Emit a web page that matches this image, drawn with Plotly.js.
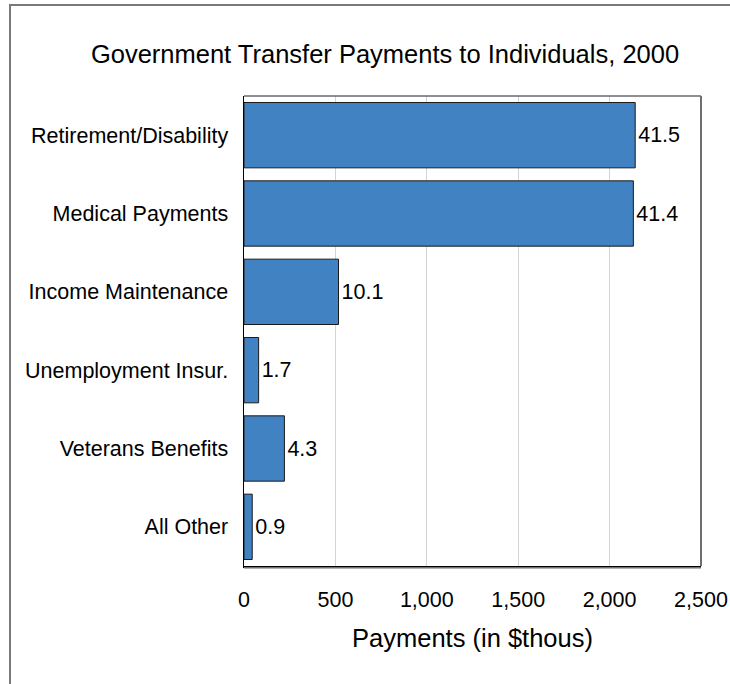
<!DOCTYPE html>
<html>
<head>
<meta charset="utf-8">
<script src="https://cdn.plot.ly/plotly-3.0.1.min.js"></script>
<style>
  html, body { margin: 0; padding: 0; background: #ffffff; }
  #wrap { position: relative; width: 730px; height: 684px; overflow: hidden; }
  #frame { position: absolute; left: 9px; top: 4px; width: 760px; height: 720px;
           border-left: 2px solid #7a7a7a; border-top: 2px solid #7a7a7a; box-sizing: border-box; }
  #chart { position: absolute; left: 0; top: 0; width: 730px; height: 684px; }
</style>
</head>
<body>
<div id="wrap">
  <div id="chart"></div>
  <div id="frame"></div>
</div>
<script>
// Data (top to bottom as displayed)
var categories = ["Retirement/Disability", "Medical Payments", "Income Maintenance", "Unemployment Insur.", "Veterans Benefits", "All Other"];
var payments = [2140, 2130, 517, 80, 221, 45];
var shareLabels = ["41.5", "41.4", "10.1", "1.7", "4.3", "0.9"];
var xTickValues = [0, 500, 1000, 1500, 2000, 2500];
var xTickLabels = ["0", "500", "1,000", "1,500", "2,000", "2,500"];

var font = "Liberation Sans, Arial, sans-serif";

var trace = {
  type: "bar",
  orientation: "h",
  y: categories,
  x: payments,
  text: shareLabels,
  textposition: "outside",
  constraintext: "none",
  cliponaxis: false,
  textfont: { family: font, size: 21.5, color: "#000000" },
  marker: { color: "#4182C2", line: { color: "#1a1a1a", width: 1 } },
  hoverinfo: "x+y"
};

var layout = {
  width: 730,
  height: 684,
  margin: { l: 244, r: 29, t: 96, b: 118 },
  paper_bgcolor: "#ffffff",
  plot_bgcolor: "#ffffff",
  showlegend: false,
  bargap: 0.166,
  title: {
    text: "Government Transfer Payments to Individuals, 2000",
    font: { family: font, size: 25.5, color: "#000000" },
    xref: "container", x: 385 / 730, xanchor: "center",
    yref: "container", y: 1 - 54 / 684, yanchor: "middle"
  },
  xaxis: {
    range: [0, 2500],
    tickvals: xTickValues,
    ticktext: xTickLabels,
    tickfont: { family: font, size: 21.5, color: "#000000" },
    showgrid: true,
    gridcolor: "#d4d4d4",
    gridwidth: 1,
    zeroline: false,
    showline: true,
    linecolor: "#000000",
    linewidth: 2,
    ticks: "",
    ticklabelstandoff: 13,
    title: {
      text: "Payments (in $thous)",
      font: { family: font, size: 25.5, color: "#000000" },
      standoff: 18
    },
    fixedrange: true
  },
  yaxis: {
    autorange: "reversed",
    tickfont: { family: font, size: 21.5, color: "#000000" },
    showgrid: false,
    zeroline: false,
    showline: true,
    linecolor: "#000000",
    linewidth: 1.5,
    ticks: "",
    ticklabelstandoff: 10,
    fixedrange: true
  },
  shapes: [
    { type: "line", xref: "paper", yref: "paper", x0: 0, x1: 1, y0: 1, y1: 1,
      line: { color: "#202020", width: 1 } },
    { type: "line", xref: "paper", yref: "paper", x0: 1, x1: 1, y0: 0, y1: 1,
      line: { color: "#6e6e6e", width: 2 } },
    { type: "line", xref: "paper", yref: "paper", ysizemode: "pixel", yanchor: 0,
      x0: 0, x1: 1, y0: -2, y1: -2, line: { color: "#9a9a9a", width: 1.5 } }
  ]
};

Plotly.newPlot("chart", [trace], layout, { displayModeBar: false, staticPlot: true });
</script>
</body>
</html>
